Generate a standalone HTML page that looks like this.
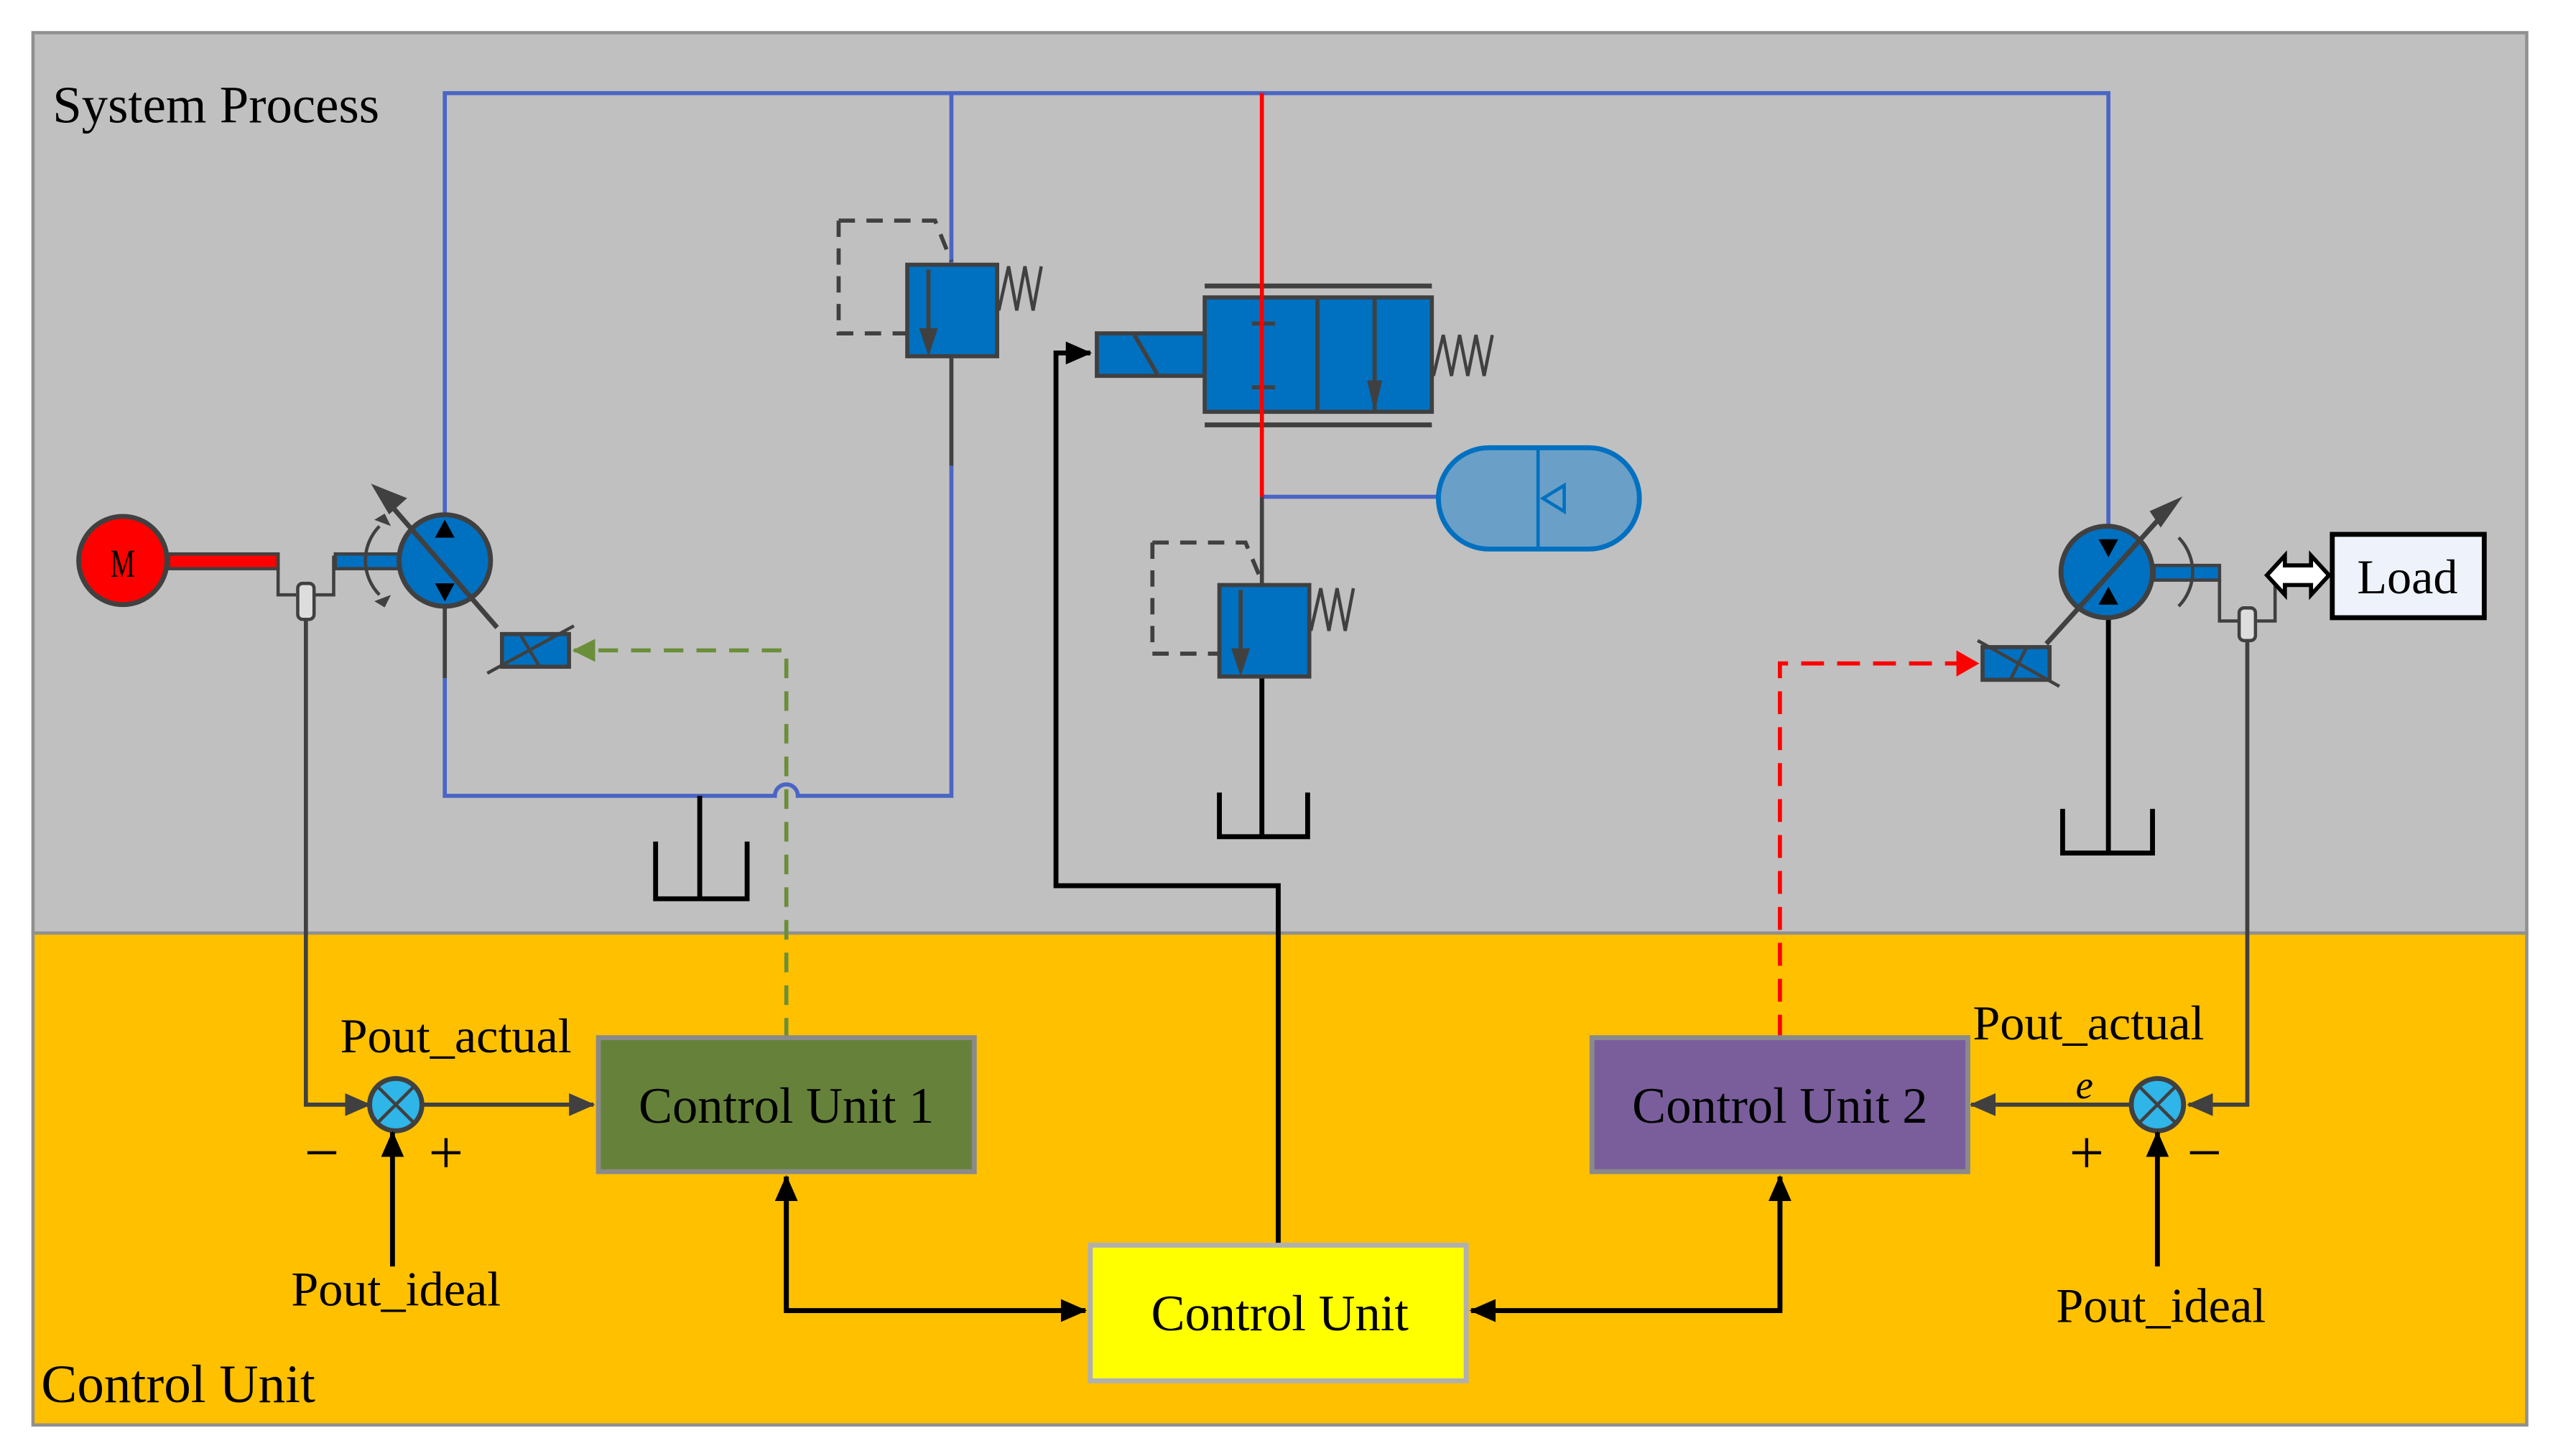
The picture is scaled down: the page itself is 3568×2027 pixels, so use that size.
<!DOCTYPE html>
<html><head><meta charset="utf-8"><style>html,body{margin:0;padding:0;background:#fff}svg{display:block}text{font-family:"Liberation Serif",serif}</style></head><body>
<svg width="3568" height="2027" viewBox="0 0 1568 891" xmlns="http://www.w3.org/2000/svg">
<defs>
<marker id="abl" markerWidth="16" markerHeight="14" refX="15" refY="7" orient="auto" markerUnits="userSpaceOnUse"><path d="M0,0 L16,7 L0,14 Z" fill="#000"/></marker>
<marker id="ag" markerWidth="16" markerHeight="14" refX="15" refY="7" orient="auto" markerUnits="userSpaceOnUse"><path d="M0,0 L16,7 L0,14 Z" fill="#404040"/></marker>
<marker id="agr" markerWidth="14" markerHeight="14" refX="13" refY="7" orient="auto" markerUnits="userSpaceOnUse"><path d="M0,0 L14,7 L0,14 Z" fill="#6B8E3A"/></marker>
<marker id="ar" markerWidth="14" markerHeight="16" refX="13" refY="8" orient="auto" markerUnits="userSpaceOnUse"><path d="M0,0 L14,8 L0,16 Z" fill="#f00"/></marker>
</defs>
<rect x="20" y="20" width="1526" height="551" fill="#C0C0C0" stroke="#909090" stroke-width="2"/>
<rect x="20" y="571" width="1526" height="301" fill="#FFC000" stroke="#909090" stroke-width="2"/>
<text x="32" y="75" font-size="32">System Process</text>
<text x="25" y="858" font-size="33">Control Unit</text>

<g stroke="#4A65C4" stroke-width="2.5" fill="none">
<path d="M272,318 V57 H1290 V322"/>
<path d="M582,57 V162"/>
<path d="M582,285 V487 H488 a7,7 0 0 0 -14,0 H272 V415"/>
<path d="M772,304 H880"/>
</g>
<g stroke="#404040" stroke-width="2.5" fill="none">
<path d="M582,218 V285"/><path d="M772,304 V358"/><path d="M272,371 V415"/>
</g>
<g stroke="#000" stroke-width="3" fill="none">
<path d="M428,487 V550 M401,515 V550 H457 V515"/>
<path d="M772,414 V512 M746,485 V512 H800 V485"/>
<path d="M1290,378 V522 M1262,495 V522 H1317 V495"/>
</g>
<g stroke="#404040" stroke-width="2.5">
<path d="M513,135 H572 L582,160 M513,135 V204 H555" fill="none" stroke-dasharray="10,7"/>
<rect x="555" y="162" width="55" height="56" fill="#0070C0"/>
<path d="M568,165 V212" /><path d="M564,202 L568,214 L572,202Z" fill="#404040"/>
<path d="M611,190 L617,163 L622,190 L627,163 L632,190 L637,163" fill="none" stroke-width="2"/>
</g>
<g stroke="#404040" stroke-width="2.5">
<path d="M705,332 H762 L772,356 M705,332 V400 H746" fill="none" stroke-dasharray="10,7"/>
<rect x="746" y="358" width="55" height="56" fill="#0070C0"/>
<path d="M759,361 V408"/><path d="M755,398 L759,410 L763,398Z" fill="#404040"/>
<path d="M802,386 L808,360 L813,386 L818,360 L823,386 L828,360" fill="none" stroke-width="2"/>
</g>
<g stroke="#404040" stroke-width="2.5">
<path d="M737,175 H876 M737,260 H876" stroke-width="3"/>
<rect x="671" y="204" width="66" height="26" fill="#0070C0"/>
<path d="M694,205 L708,229"/>
<rect x="737" y="182" width="139" height="70" fill="#0070C0"/>
<path d="M806,182 V252 M841,182 V252"/>
<path d="M766,198 H780 M766,237 H780"/>
<path d="M841,186 V245"/><path d="M838,234 L841,247 L844,234Z" fill="#404040"/>
<path d="M877,230 L883,205 L888,230 L893,205 L898,230 L903,205 L908,230 L913,205" fill="none" stroke-width="2"/>
</g>
<path d="M772,57 V304" stroke="#f00" stroke-width="2.5"/>
<rect x="880" y="274" width="123" height="62" rx="31" fill="#6A9FC8" stroke="#0070C0" stroke-width="3"/>
<path d="M941,274 V336" stroke="#0070C0" stroke-width="2"/>
<path d="M957,297 L944,305 L957,313 Z" fill="none" stroke="#0070C0" stroke-width="2"/>
<path d="M782,762 V542 H646 V216 H667" stroke="#000" stroke-width="3" fill="none" marker-end="url(#abl)"/>
<rect x="103" y="339" width="67" height="9" fill="#f00" stroke="#404040" stroke-width="2"/>
<circle cx="75" cy="343" r="27" fill="#f00" stroke="#404040" stroke-width="3"/>
<text x="75" y="353" font-size="24" text-anchor="middle" transform="translate(75 0) scale(0.7 1) translate(-75 0)">M</text>
<g stroke="#404040" stroke-width="2" fill="none">
<path d="M170,339 V364 H181 M193,364 H204 V340"/>
<rect x="182" y="357" width="10" height="22" rx="3" fill="#ddd"/>
<path d="M187,379 V676 H226" stroke-width="2.5" marker-end="url(#ag)"/>
</g>
<rect x="205" y="339" width="40" height="9" fill="#0070C0" stroke="#404040" stroke-width="2"/>
<g stroke="#404040" stroke-width="3">
<path d="M232,322 a30,30 0 0 0 0,42" fill="none" stroke-width="2"/>
<path d="M230,318 l5,-3 l3,6z M230,368 l5,3 l3,-6z" fill="#404040" stroke-width="1"/>
<circle cx="272" cy="343" r="28" fill="#0070C0"/>
<path d="M231,300 L304,384" />
<path d="M228,297 L248,305 L238,314 Z" fill="#404040" stroke-width="1"/>
<path d="M266,329 L272,318 L278,329Z M266,357 L272,368 L278,357Z" fill="#000" stroke="none"/>
<rect x="307" y="388" width="41" height="20" fill="#0070C0" stroke-width="2.5"/>
<path d="M298,412 L351,383 M318,388 L330,408" stroke-width="2"/>
</g>
<path d="M481,635 V398 H351" stroke="#6B8E3A" stroke-width="2.5" stroke-dasharray="12,8" fill="none" marker-end="url(#agr)"/>
<g stroke="#404040" stroke-width="3">
<rect x="1318" y="346" width="40" height="9" fill="#0070C0" stroke-width="2"/>
<path d="M1333,329 a30,30 0 0 1 0,42" fill="none" stroke-width="2"/>
<circle cx="1289" cy="350" r="28" fill="#0070C0"/>
<path d="M1252,394 L1326,312"/>
<path d="M1334,305 L1322,322 L1316,313 Z" fill="#404040" stroke-width="1"/>
<path d="M1284,330 L1290,341 L1296,330Z M1284,370 L1290,359 L1296,370Z" fill="#000" stroke="none"/>
<rect x="1213" y="396" width="41" height="20" fill="#0070C0" stroke-width="2.5"/>
<path d="M1210,392 L1260,420 M1230,416 L1240,396" stroke-width="2"/>
</g>
<path d="M1089,635 V406 H1210" stroke="#f00" stroke-width="2.5" stroke-dasharray="14,8" fill="none" marker-end="url(#ar)"/>
<g stroke="#404040" stroke-width="2" fill="none">
<path d="M1358,354 V380 H1370 M1381,380 H1392 V354 H1400"/>
<rect x="1370" y="372" width="10" height="20" rx="3" fill="#ddd"/>
<path d="M1375,392 V676 H1339" stroke-width="2.5" marker-end="url(#ag)"/>
</g>
<path d="M1387,352 L1398,340 V346 H1414 V340 L1425,352 L1414,364 V358 H1398 V364 Z" fill="#fff" stroke="#000" stroke-width="2.5"/>
<rect x="1427" y="327" width="93" height="51" fill="#EEF3FB" stroke="#000" stroke-width="3"/>
<text x="1473" y="363" font-size="30" text-anchor="middle">Load</text>
<circle cx="242" cy="676" r="16" fill="#2FB5E8" stroke="#404040" stroke-width="3"/>
<path d="M231,665 L253,687 M253,665 L231,687" stroke="#404040" stroke-width="2"/>
<path d="M258,676 H363" stroke="#404040" stroke-width="2.5" marker-end="url(#ag)"/>
<path d="M240,775 V693" stroke="#000" stroke-width="3" marker-end="url(#abl)"/>
<circle cx="1320" cy="676" r="16" fill="#2FB5E8" stroke="#404040" stroke-width="3"/>
<path d="M1309,665 L1331,687 M1331,665 L1309,687" stroke="#404040" stroke-width="2"/>
<path d="M1304,676 H1206" stroke="#404040" stroke-width="2.5" marker-end="url(#ag)"/>
<path d="M1320,775 V693" stroke="#000" stroke-width="3" marker-end="url(#abl)"/>
<rect x="366" y="635" width="230" height="82" fill="#66823A" stroke="#8a8a8a" stroke-width="3"/>
<rect x="974" y="635" width="230" height="82" fill="#7A5E9C" stroke="#8a8a8a" stroke-width="3"/>
<rect x="667" y="762" width="230" height="83" fill="#FFFF00" stroke="#b0b0b0" stroke-width="3"/>
<path d="M481,720 V802 H664" stroke="#000" stroke-width="3" fill="none" marker-end="url(#abl)"/>
<path d="M481,802 V720" stroke="#000" stroke-width="3" marker-end="url(#abl)"/>
<path d="M1089,720 V802 H900" stroke="#000" stroke-width="3" fill="none" marker-end="url(#abl)"/>
<path d="M1089,802 V720" stroke="#000" stroke-width="3" marker-end="url(#abl)"/>
<g font-size="31" text-anchor="middle">
<text x="481" y="687">Control Unit 1</text>
<text x="1089" y="687">Control Unit 2</text>
<text x="783" y="814">Control Unit</text>
</g>
<g font-size="30">
<text x="208" y="644">Pout_actual</text>
<text x="178" y="799">Pout_ideal</text>
<text x="1207" y="636">Pout_actual</text>
<text x="1258" y="809">Pout_ideal</text>
</g>
<g font-size="38">
<text x="186" y="718">−</text><text x="262" y="718">+</text>
<text x="1266" y="718">+</text><text x="1338" y="718">−</text>
</g>
<text x="1270" y="672" font-style="italic" font-size="24">e</text>
</svg>
</body></html>
